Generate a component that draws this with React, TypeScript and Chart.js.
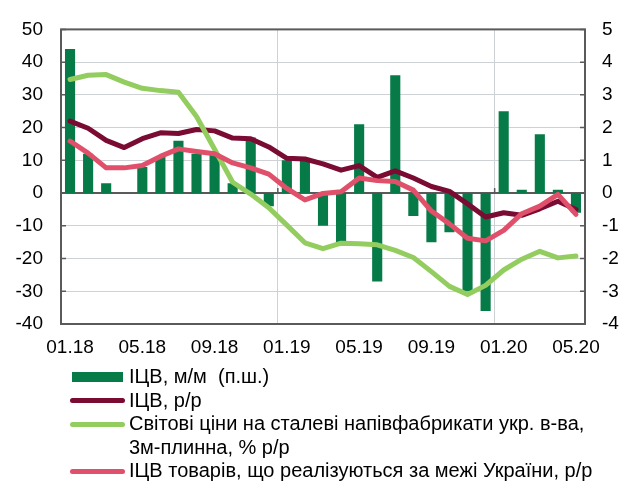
import React, { useEffect, useRef } from "react";
import { Chart, registerables } from "chart.js";

Chart.register(...registerables);

const months = [
  "01.18", "02.18", "03.18", "04.18", "05.18", "06.18", "07.18", "08.18", "09.18", "10.18", "11.18", "12.18",
  "01.19", "02.19", "03.19", "04.19", "05.19", "06.19", "07.19", "08.19", "09.19", "10.19", "11.19", "12.19",
  "01.20", "02.20", "03.20", "04.20", "05.20",
];

// ІЦВ, м/м (right scale)
const ppiMoM = [4.4, 1.2, 0.3, 0, 0.8, 1.1, 1.6, 1.2, 1.2, 0.3, 1.7, -0.4, 1.0, 1.0, -1.0, -1.5, 2.1, -2.7, 3.6, -0.7, -1.5, -1.2, -3.0, -3.6, 2.5, 0.1, 1.8, 0.1, -0.6];
// ІЦВ, р/р
const ppiYoY = [22.0, 19.8, 16.1, 13.9, 16.6, 18.4, 18.2, 19.4, 19.0, 16.8, 16.6, 14.1, 10.6, 10.4, 8.9, 7.0, 8.4, 4.8, 6.8, 4.6, 2.0, 0.5, -3.3, -7.3, -6.0, -6.8, -4.8, -2.5, -5.0];
// Світові ціни на сталеві напівфабрикати укр. в-ва, 3м-плинна
const steelPrices = [34.7, 36.0, 36.2, 33.9, 32.0, 31.3, 30.8, 23.4, 13.4, 3.3, -0.3, -4.5, -9.8, -15.2, -17.0, -15.3, -15.5, -15.8, -17.5, -19.7, -24.0, -28.5, -31.0, -28.2, -23.5, -20.2, -17.8, -19.8, -19.2];
// ІЦВ товарів, що реалізуються за межі України
const ppiExport = [15.9, 12.2, 7.7, 7.7, 8.4, 11.2, 13.5, 12.7, 12.0, 9.2, 7.7, 5.8, 1.4, -2.1, -0.1, 0.4, 4.6, 3.8, 3.5, 0.9, -5.5, -9.4, -13.8, -14.6, -11.4, -6.3, -4.0, -0.4, -6.5];

const leftMin = -40, leftMax = 50, leftStep = 10;
const rightMin = -4, rightMax = 5, rightStep = 1;

const C_BAR = "#077b47";
const C_MAROON = "#7a0b33";
const C_LGREEN = "#93cd5f";
const C_PINK = "#e0506a";
const C_FRAME = "#5a5a5a";
const C_GRID = "#cfd2d4";

const FONT = "'Liberation Sans', Arial, sans-serif";

const legendRows = [
  { color: C_BAR, kind: "bar", lines: ["ІЦВ, м/м  (п.ш.)"] },
  { color: C_MAROON, kind: "line", lines: ["ІЦВ, р/р"] },
  { color: C_LGREEN, kind: "line", lines: ["Світові ціни на сталеві напівфабрикати укр. в-ва,", "3м-плинна, % р/р"] },
  { color: C_PINK, kind: "line", lines: ["ІЦВ товарів, що реалізуються за межі України, р/р"] },
];

const framePlugin = {
  id: "frame",
  beforeDatasetsDraw(chart: any) {
    const { ctx, chartArea, scales } = chart;
    const { left, right } = chartArea;
    const y = scales.y;
    const x = scales.x;
    ctx.save();
    ctx.strokeStyle = C_FRAME;
    ctx.lineWidth = 2;
    const y0 = y.getPixelForValue(0);
    ctx.beginPath();
    ctx.moveTo(left, y0);
    ctx.lineTo(right, y0);
    ctx.stroke();
    ctx.lineWidth = 1.5;
    for (const t of y.ticks) {
      const py = y.getPixelForValue(t.value);
      ctx.beginPath();
      ctx.moveTo(left, py);
      ctx.lineTo(left + 5, py);
      ctx.moveTo(right - 5, py);
      ctx.lineTo(right, py);
      ctx.stroke();
    }
    for (let i = 12; i < months.length; i += 12) {
      const px = (x.getPixelForValue(i - 1) + x.getPixelForValue(i)) / 2;
      ctx.beginPath();
      ctx.moveTo(px, y0);
      ctx.lineTo(px, y0 - 5);
      ctx.stroke();
    }
    ctx.restore();
  },
  afterDraw(chart: any) {
    const { ctx, chartArea } = chart;
    const { left, right, top, bottom } = chartArea;
    ctx.save();
    ctx.strokeStyle = C_FRAME;
    ctx.lineWidth = 2;
    ctx.strokeRect(left, top, right - left, bottom - top);
    ctx.restore();
  },
};

function ChartCanvas() {
  const ref = useRef<HTMLCanvasElement | null>(null);
  useEffect(() => {
    if (!ref.current) return;
    const lineBase = {
      type: "line" as const,
      yAxisID: "y",
      borderWidth: 5,
      pointRadius: 0,
      tension: 0,
      borderCapStyle: "round" as const,
      borderJoinStyle: "round" as const,
      fill: false,
    };
    const chart = new Chart(ref.current, {
      type: "bar",
      data: {
        labels: months,
        datasets: [
          { ...lineBase, label: "pink", data: ppiExport, borderColor: C_PINK, backgroundColor: C_PINK, order: 0 },
          { ...lineBase, label: "lgreen", data: steelPrices, borderColor: C_LGREEN, backgroundColor: C_LGREEN, order: 1 },
          { ...lineBase, label: "maroon", data: ppiYoY, borderColor: C_MAROON, backgroundColor: C_MAROON, order: 2 },
          {
            type: "bar",
            label: "bars",
            data: ppiMoM,
            yAxisID: "y1",
            backgroundColor: C_BAR,
            borderWidth: 0,
            barPercentage: 0.56,
            categoryPercentage: 1,
            order: 3,
          },
        ] as any,
      },
      options: {
        responsive: false,
        animation: false,
        devicePixelRatio: 1,
        layout: { padding: { top: 19, left: 0, right: 0, bottom: 0 } },
        plugins: { legend: { display: false }, tooltip: { enabled: false } },
        scales: {
          x: {
            type: "category",
            offset: true,
            grid: {
              offset: true,
              drawTicks: false,
              color: (c: any) => (c.index === 12 || c.index === 24 ? C_GRID : "rgba(0,0,0,0)"),
              lineWidth: 1,
            },
            border: { display: false },
            ticks: {
              autoSkip: false,
              maxRotation: 0,
              padding: 12,
              color: "#000",
              font: { family: FONT, size: 19 },
              callback: (_v: any, i: number) => (i % 4 === 0 ? months[i] : ""),
            },
            afterFit: (s: any) => { s.height = 162; },
          },
          y: {
            position: "left",
            min: leftMin,
            max: leftMax,
            grid: {
              drawTicks: false,
              color: (c: any) => (c.tick && c.tick.value === 0 ? "rgba(0,0,0,0)" : C_GRID),
              lineWidth: 1,
            },
            border: { display: false },
            ticks: { stepSize: leftStep, padding: 18, color: "#000", font: { family: FONT, size: 19 } },
            afterFit: (s: any) => { s.width = 61; },
          },
          y1: {
            position: "right",
            min: rightMin,
            max: rightMax,
            grid: { display: false, drawTicks: false },
            border: { display: false },
            ticks: { stepSize: rightStep, padding: 17, color: "#000", font: { family: FONT, size: 19 } },
            afterFit: (s: any) => { s.width = 44; },
          },
        },
      },
      plugins: [framePlugin],
    });
    return () => chart.destroy();
  }, []);
  return <canvas ref={ref} width={629} height={486} style={{ width: 629, height: 486, display: "block" }} />;
}

function Legend() {
  const rowH = 23.5;
  let lineIdx = 0;
  const firstCenter = 377;
  return (
    <div style={{ position: "absolute", left: 0, top: 0, width: 629, height: 486, pointerEvents: "none" }}>
      {legendRows.map((r, ri) => {
        const startIdx = lineIdx;
        lineIdx += r.lines.length;
        const cy = firstCenter + startIdx * rowH;
        return (
          <React.Fragment key={ri}>
            {r.kind === "bar" ? (
              <div style={{ position: "absolute", left: 72, top: cy - 4.75, width: 51, height: 9.5, background: r.color }} />
            ) : (
              <div style={{ position: "absolute", left: 70, top: cy - 2.5, width: 55, height: 5, borderRadius: 2.5, background: r.color }} />
            )}
            {r.lines.map((t, li) => (
              <div
                key={li}
                style={{
                  position: "absolute",
                  left: 129,
                  top: cy + li * rowH - rowH / 2,
                  height: rowH,
                  lineHeight: rowH + "px",
                  fontFamily: FONT,
                  fontSize: 20,
                  color: "#000",
                  whiteSpace: "pre",
                }}
              >
                {t}
              </div>
            ))}
          </React.Fragment>
        );
      })}
    </div>
  );
}

export default function App() {
  return (
    <div style={{ position: "fixed", left: 0, top: 0, width: 629, height: 486, background: "#fff", overflow: "hidden" }}>
      <ChartCanvas />
      <Legend />
    </div>
  );
}
